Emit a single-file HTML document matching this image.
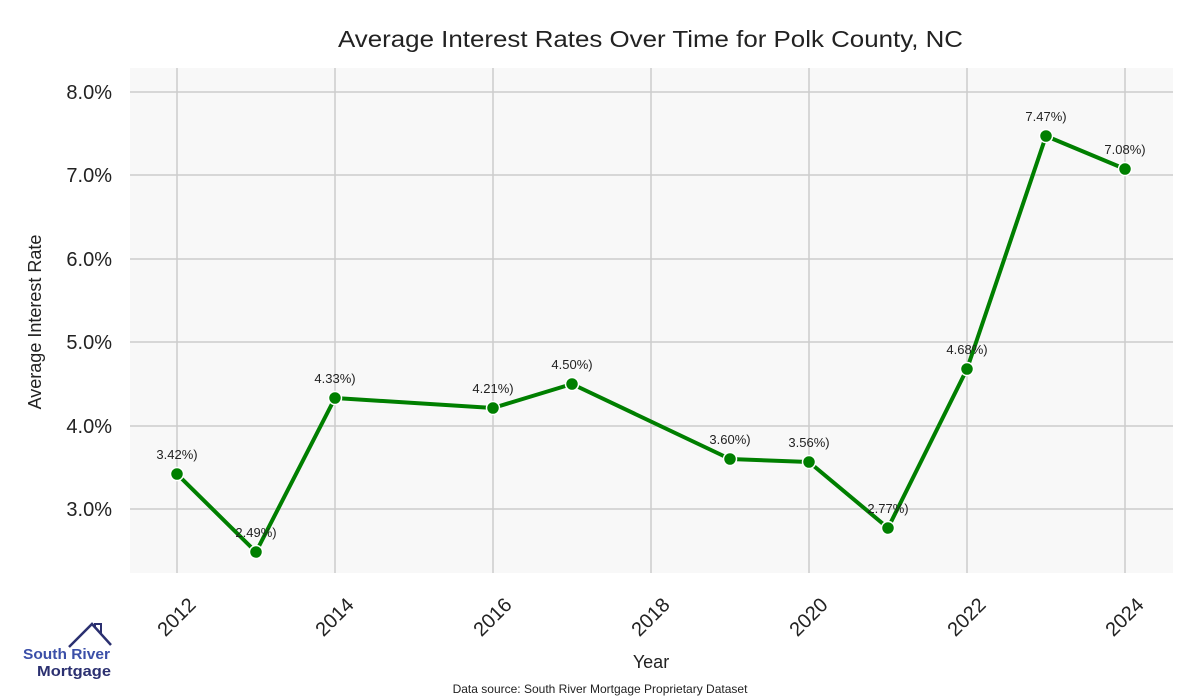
<!DOCTYPE html>
<html><head><style>body{margin:0;background:#fff}svg{display:block;font-family:"Liberation Sans",sans-serif}</style></head>
<body>
<svg width="1200" height="700" viewBox="0 0 1200 700">
<rect x="130" y="68" width="1043" height="505" fill="#f8f8f8"/>
<g stroke="#cccccc" stroke-width="1.5">
<line x1="130" x2="1173" y1="92" y2="92"/><line x1="130" x2="1173" y1="175" y2="175"/><line x1="130" x2="1173" y1="259" y2="259"/><line x1="130" x2="1173" y1="342" y2="342"/><line x1="130" x2="1173" y1="426" y2="426"/><line x1="130" x2="1173" y1="509" y2="509"/>
<line x1="177" x2="177" y1="68" y2="573"/><line x1="335" x2="335" y1="68" y2="573"/><line x1="493" x2="493" y1="68" y2="573"/><line x1="651" x2="651" y1="68" y2="573"/><line x1="809" x2="809" y1="68" y2="573"/><line x1="967" x2="967" y1="68" y2="573"/><line x1="1125" x2="1125" y1="68" y2="573"/>
</g>
<text x="338" y="47" font-size="23" textLength="625" lengthAdjust="spacingAndGlyphs" fill="#222">Average Interest Rates Over Time for Polk County, NC</text>
<g font-size="20" fill="#222" text-anchor="end">
<text x="112" y="99">8.0%</text><text x="112" y="182">7.0%</text><text x="112" y="266">6.0%</text><text x="112" y="349">5.0%</text><text x="112" y="433">4.0%</text><text x="112" y="516">3.0%</text>
</g>
<text transform="translate(41,322) rotate(-90)" font-size="18" text-anchor="middle" fill="#222">Average Interest Rate</text>
<g font-size="20" fill="#222" text-anchor="end">
<text transform="translate(197,606) rotate(-45)">2012</text>
<text transform="translate(355,606) rotate(-45)">2014</text>
<text transform="translate(513,606) rotate(-45)">2016</text>
<text transform="translate(671,606) rotate(-45)">2018</text>
<text transform="translate(829,606) rotate(-45)">2020</text>
<text transform="translate(987,606) rotate(-45)">2022</text>
<text transform="translate(1145,606) rotate(-45)">2024</text>
</g>
<text x="651" y="668" font-size="18" text-anchor="middle" fill="#222">Year</text>
<text x="600" y="693" font-size="12" text-anchor="middle" fill="#222">Data source: South River Mortgage Proprietary Dataset</text>
<polyline fill="none" stroke="#007f00" stroke-width="4" stroke-linejoin="round" points="177,474 256,552 335,398 493,408 572,384 730,459 809,462 888,528 967,369 1046,136 1125,169"/>
<g fill="#007f00" stroke="#fff" stroke-width="1.5">
<circle cx="177" cy="474" r="6.5"/><circle cx="256" cy="552" r="6.5"/><circle cx="335" cy="398" r="6.5"/><circle cx="493" cy="408" r="6.5"/><circle cx="572" cy="384" r="6.5"/><circle cx="730" cy="459" r="6.5"/><circle cx="809" cy="462" r="6.5"/><circle cx="888" cy="528" r="6.5"/><circle cx="967" cy="369" r="6.5"/><circle cx="1046" cy="136" r="6.5"/><circle cx="1125" cy="169" r="6.5"/>
</g>
<g font-size="13" fill="#222" text-anchor="middle">
<text x="177" y="459">3.42%)</text><text x="256" y="537">2.49%)</text><text x="335" y="383">4.33%)</text><text x="493" y="393">4.21%)</text><text x="572" y="369">4.50%)</text><text x="730" y="444">3.60%)</text><text x="809" y="447">3.56%)</text><text x="888" y="513">2.77%)</text><text x="967" y="354">4.68%)</text><text x="1046" y="121">7.47%)</text><text x="1125" y="154">7.08%)</text>
</g>
<polyline fill="none" stroke="#2b3070" stroke-width="2.5" points="69,647 92,624 111,645"/>
<polyline fill="none" stroke="#2b3070" stroke-width="2" points="95,627 95,624 101,624 101,634"/>
<text x="23" y="659" font-size="15" font-weight="bold" fill="#3b4fa8" textLength="87" lengthAdjust="spacingAndGlyphs">South River</text>
<text x="37" y="676" font-size="15" font-weight="bold" fill="#2b3070" textLength="74" lengthAdjust="spacingAndGlyphs">Mortgage</text>
</svg>
</body></html>
